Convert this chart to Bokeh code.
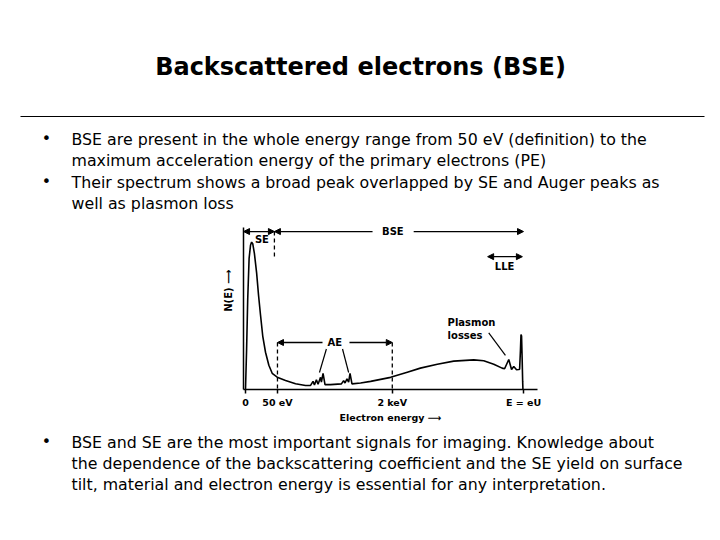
import math
from bokeh.plotting import figure
from bokeh.models import Range1d, FixedTicker, Arrow, NormalHead, Label, LinearAxis
from bokeh.embed import file_html
from bokeh.resources import INLINE
from bokeh.core.properties import value

# ---------------- data ----------------
title_text = "Backscattered electrons (BSE)"
bullets_top = [
    ["BSE are present in the whole energy range from 50 eV (definition) to the",
     "maximum acceleration energy of the primary electrons (PE)"],
    ["Their spectrum shows a broad peak overlapped by SE and Auger peaks as",
     "well as plasmon loss"],
]
bullets_bottom = [
    ["BSE and SE are the most important signals for imaging. Knowledge about",
     "the dependence of the backscattering coefficient and the SE yield on surface",
     "tilt, material and electron energy is essential for any interpretation."],
]

# schematic spectrum (x: position on energy axis, 1000 = E = eU ; y: relative N(E) in %)
energy = [0, 4, 8, 13, 18, 22, 26, 32, 40, 47, 54, 62, 72, 84, 96, 114, 144, 180, 216, 234,
          243, 248, 255, 261, 270, 273, 279, 286, 306, 345, 353, 358, 365, 371, 376, 383, 414, 450, 522, 582,
          629, 690, 749, 821, 857, 893, 923, 932, 947, 957, 965, 975, 983, 986, 989, 991, 993, 995, 997, 998]
n_e = [0, 25, 56, 81, 89, 91, 90, 84, 72, 58, 46, 33, 23, 15, 10, 7.6, 5.6, 3.5, 2.5, 2.5,
       5.0, 2.8, 6.0, 3.2, 7.5, 4.5, 10, 3.0, 3.0, 3.5, 5.5, 4.0, 6.5, 4.5, 10, 3.5, 4.0, 5.0, 7.5, 10.7,
       13.2, 15.6, 17.5, 18.3, 17.7, 15.6, 13.2, 12.8, 18.5, 12.3, 14.2, 12.2, 12.3, 12.5, 24, 34, 33, 20, 5, 0]

tick_pos = [0, 115, 528, 1000]
tick_labels = ["0", "50 eV", "2 keV", "E = eU"]

# energy markers (schematic positions on the axis)
e_se_bse = 104
e_50ev = 115
e_2kev = 528
e_max = 1000

FONT = "DejaVu Sans"
BLACK = "#000000"

# ---------------- page figure (page pixel coordinates) ----------------
PX0, PX1, PY0, PY1 = 0, 720, 0, 540
# where the spectrum sits on the page: energy 0 -> 245 px, 1000 -> 523 px ; N(E) 0 -> 389 px, 100 -> 227 px
ex0, ex1, ny0, ny1 = 245.0, 523.0, 389.0, 227.0
sx = (ex1 - ex0) / 1000.0
sy = (ny0 - ny1) / 100.0
e_range = Range1d((PX0 - ex0) / sx, 1000 + (PX1 - ex1) / sx)
n_range = Range1d(-(PY1 - ny0) / sy, 100 + (ny1 - PY0) / sy)

p = figure(width=PX1 - PX0, height=PY1 - PY0, x_range=Range1d(PX0, PX1), y_range=Range1d(PY1, PY0),
           toolbar_location=None, output_backend="svg", min_border=0,
           outline_line_color=None, x_axis_type=None, y_axis_type=None)
p.grid.visible = False
p.extra_x_ranges = {"energy": e_range}
p.extra_y_ranges = {"ne": n_range}


def add_bullets(groups, first_line, line_gap, group_gap, size):
    xs, ys, ts, bx, by = [], [], [], [], []
    y = first_line
    for g in groups:
        bx.append(46)
        by.append(y - 1)
        for i, line in enumerate(g):
            xs.append(71)
            ys.append(y)
            ts.append(line)
            if i < len(g) - 1:
                y += line_gap
        y += group_gap
    p.text(x=xs, y=ys, text=ts, text_font=value(FONT), text_font_size=value(size),
           text_baseline="middle", text_align="left", text_color=BLACK)
    p.text(x=bx, y=by, text=["•"] * len(bx), text_font=value(FONT), text_font_size=value(size),
           text_baseline="middle", text_align="center", text_color=BLACK)


# title, rule and bullets
p.text(x=[360], y=[66.5], text=[title_text], text_font=value(FONT), text_font_size=value("24px"),
       text_font_style="bold", text_baseline="middle", text_align="center", text_color=BLACK)
p.segment(x0=[20], y0=[116], x1=[704], y1=[116], line_color=BLACK, line_width=1)
add_bullets(bullets_top, 138.8, 20.7, 22.7, "15.8px")
add_bullets(bullets_bottom, 442.2, 20.7, 22.7, "15.8px")

# ---------------- spectrum ----------------
R = dict(x_range_name="energy", y_range_name="ne")

p.line(energy, n_e, line_color=BLACK, line_width=1.6, **R)

xaxis = LinearAxis(fixed_location=0, bounds=(-7, 1050), ticker=FixedTicker(ticks=tick_pos), **R)
xaxis.major_label_overrides = dict(zip(tick_pos, tick_labels))
xaxis.major_tick_in = 0
xaxis.major_tick_out = 4
xaxis.minor_tick_line_color = None
xaxis.major_label_standoff = 3
xaxis.major_label_text_font = FONT
xaxis.major_label_text_font_size = "9.5px"
xaxis.major_label_text_font_style = "bold"
xaxis.major_label_text_color = BLACK
xaxis.axis_label = "Electron energy \u27f6"
xaxis.axis_label_standoff = 1
xaxis.axis_label_text_font = FONT
xaxis.axis_label_text_font_size = "9.5px"
xaxis.axis_label_text_font_style = "bold"
xaxis.axis_label_text_color = BLACK
xaxis.axis_line_width = 1.5
xaxis.axis_line_color = BLACK
xaxis.major_tick_line_color = BLACK
xaxis.major_tick_line_width = 1.5
p.add_layout(xaxis, "below")

yaxis = LinearAxis(fixed_location=-7, bounds=(0, 100), ticker=FixedTicker(ticks=[]), **R)
yaxis.major_tick_line_color = None
yaxis.minor_tick_line_color = None
yaxis.axis_line_width = 1.5
yaxis.axis_line_color = BLACK
p.add_layout(yaxis, "left")

lab = dict(text_font=FONT, text_font_size="10px", text_font_style="bold", text_color=BLACK,
           text_align="center", text_baseline="middle", **R)

p.add_layout(Label(x=-61, y=61, text="N(E) \u27f6", angle=math.pi / 2, **lab))


def head():
    return NormalHead(size=6, fill_color=BLACK, line_color=BLACK, line_width=1)


# SE and BSE ranges at the top
p.add_layout(Arrow(start=head(), end=head(), x_start=-7, y_start=97.5, x_end=e_se_bse, y_end=97.5,
                   line_color=BLACK, line_width=1.3, **R))
p.add_layout(Arrow(start=head(), end=None, x_start=e_se_bse, y_start=97.5, x_end=457, y_end=97.5,
                   line_color=BLACK, line_width=1.3, **R))
p.add_layout(Arrow(end=head(), x_start=605, y_start=97.5, x_end=e_max, y_end=97.5,
                   line_color=BLACK, line_width=1.3, **R))
p.add_layout(Label(x=59, y=92.5, text="SE", **lab))
p.add_layout(Label(x=530, y=97.5, text="BSE", **lab))

# dashed boundaries
p.segment(x0=[e_se_bse, e_50ev, e_2kev], y0=[97.5, 29, 29], x1=[e_se_bse, e_50ev, e_2kev], y1=[81, 0, 0],
          line_color=BLACK, line_width=1.3, line_dash="4 3", **R)

# AE range
p.add_layout(Arrow(start=head(), end=None, x_start=e_50ev, y_start=29, x_end=277, y_end=29,
                   line_color=BLACK, line_width=1.3, **R))
p.add_layout(Arrow(end=head(), x_start=374, y_start=29, x_end=e_2kev, y_end=29,
                   line_color=BLACK, line_width=1.3, **R))
p.add_layout(Label(x=321, y=29, text="AE", **lab))
p.segment(x0=[291, 349], y0=[25, 25], x1=[266, 371], y1=[10.5, 10.5], line_color=BLACK, line_width=1.2, **R)

# LLE range
p.add_layout(Arrow(start=head(), end=head(), x_start=871, y_start=82, x_end=e_max - 4, y_end=82,
                   line_color=BLACK, line_width=1.3, **R))
p.add_layout(Label(x=932, y=76, text="LLE", **lab))

# plasmon losses
lab_l = dict(lab)
lab_l["text_align"] = "left"
p.add_layout(Label(x=727, y=41.4, text="Plasmon", **lab_l))
p.add_layout(Label(x=727, y=33.3, text="losses", **lab_l))
p.segment(x0=[875], y0=[35], x1=[935], y1=[21], line_color=BLACK, line_width=1.2, **R)

open("out.html", "w").write(file_html(p, INLINE))
